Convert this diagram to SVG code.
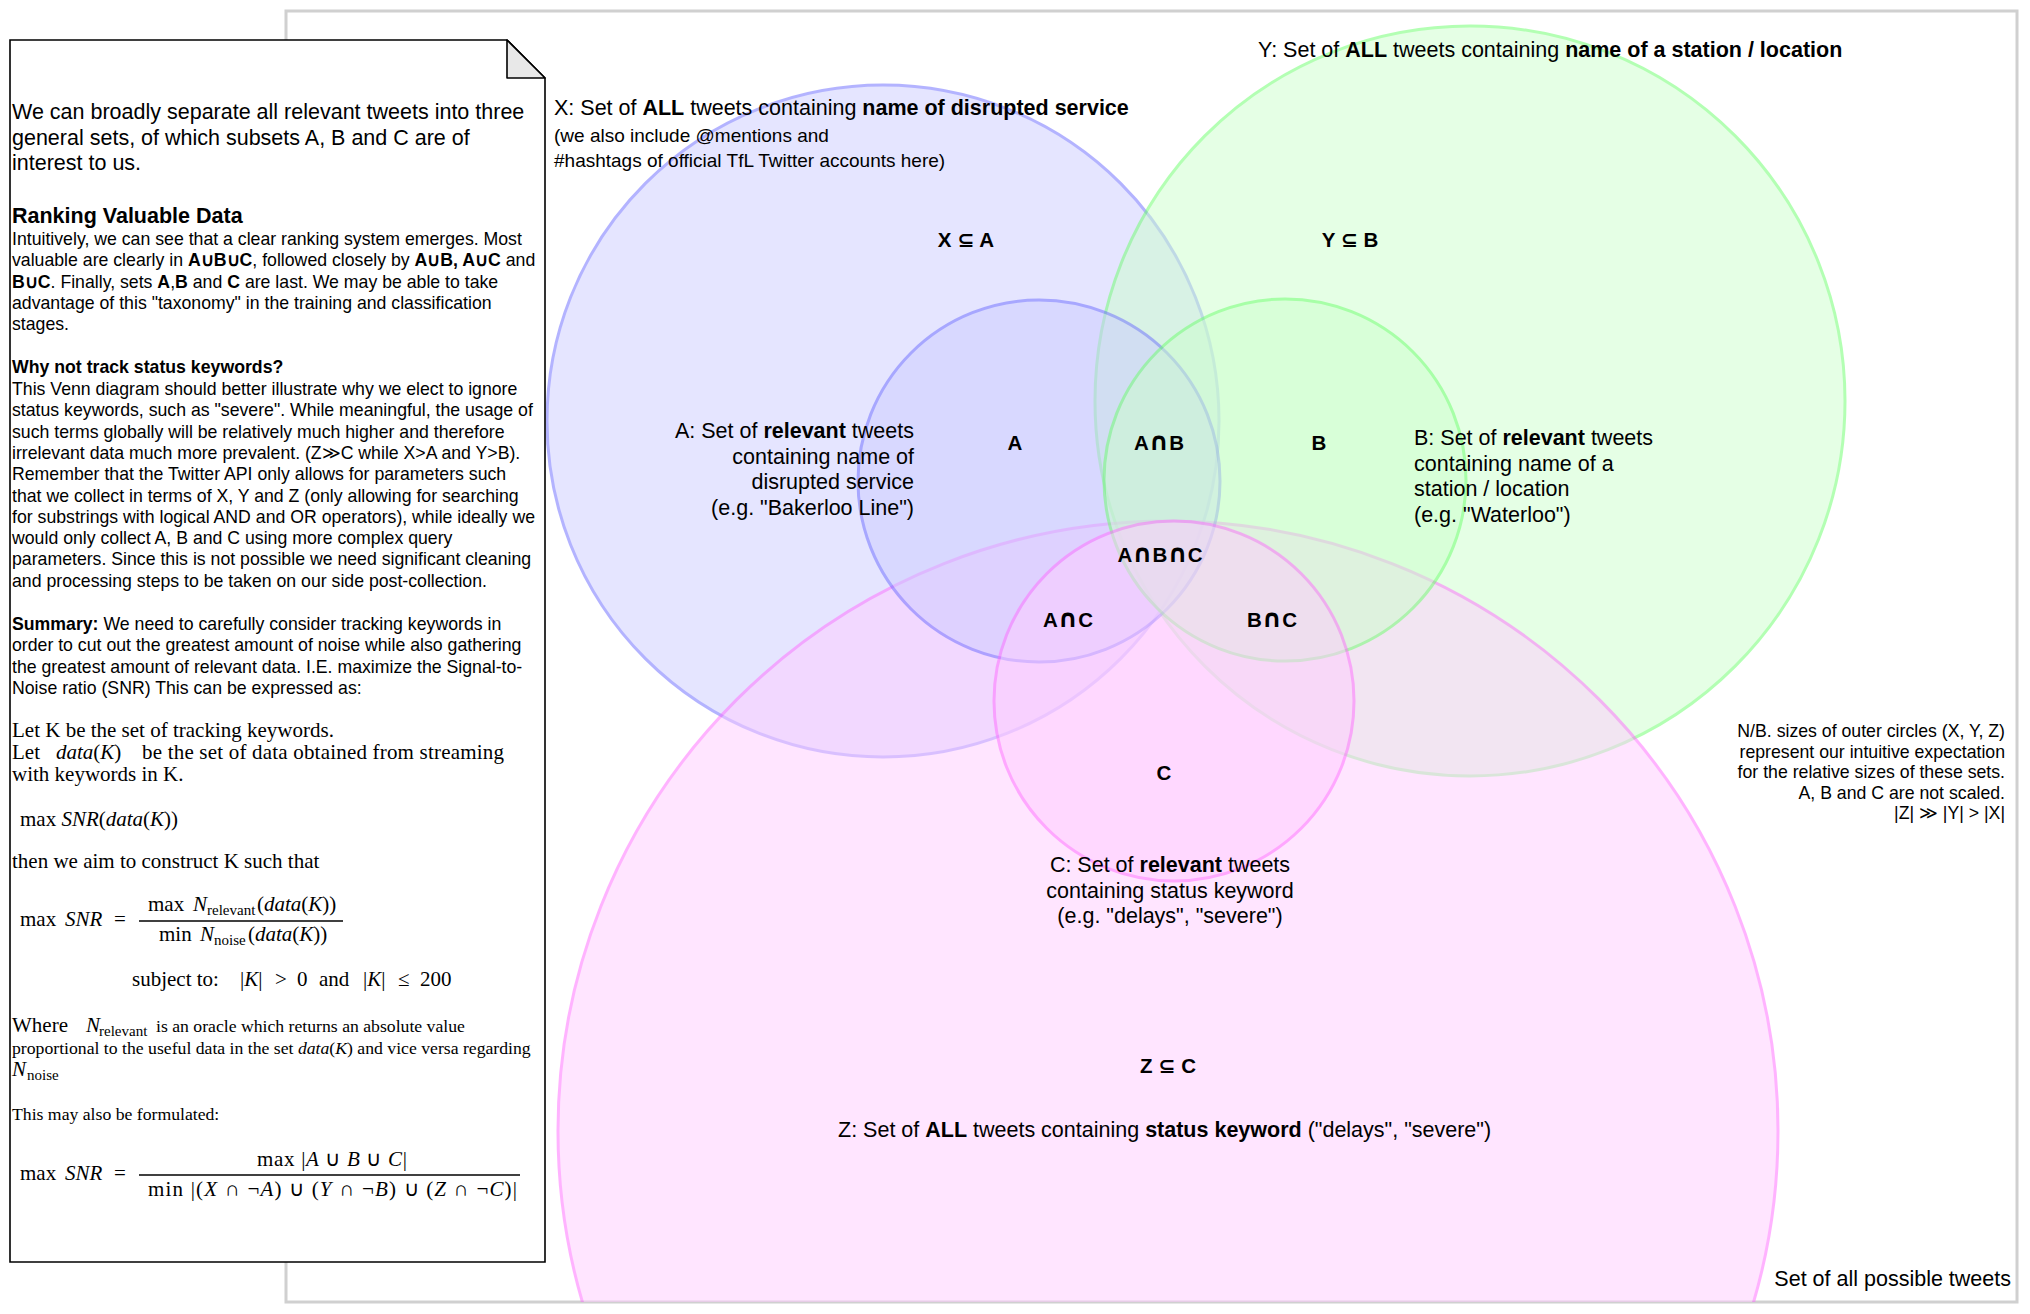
<svg xmlns="http://www.w3.org/2000/svg" width="2030" height="1314" viewBox="0 0 2030 1314">
<defs>
<style>
.sans{font-family:"Liberation Sans",Arial,Helvetica,sans-serif;fill:#000}
.serif{font-family:"Liberation Serif","Times New Roman",serif;fill:#000}
.b{font-weight:bold}
.i{font-style:italic}
.lbl{font-size:21.5px}
.sub{font-size:19px}
.reg{font-family:"Liberation Sans",Arial,sans-serif;font-weight:bold;font-size:20.5px;text-anchor:middle}
.op{font-family:"DejaVu Sans",sans-serif;font-weight:bold}
.cap{font-family:"DejaVu Sans",sans-serif;font-weight:bold;font-size:25px}
.body{font-size:17.7px}
.m{font-size:21px}
.ms{font-size:17.7px}
.tiny{font-size:15px}
.blue{fill:#ccccff;stroke:#6a6aff;stroke-width:3;opacity:0.5}
.green{fill:#ccffcc;stroke:#6aff6a;stroke-width:3;opacity:0.5}
.pink{fill:#ffccff;stroke:#ff6aff;stroke-width:3;opacity:0.5}
</style>
<clipPath id="pageClip"><rect x="286" y="11" width="1731" height="1291"/></clipPath>
</defs>
<rect width="2030" height="1314" fill="#ffffff"/>

<g id="universe">
<rect x="286" y="11" width="1731" height="1291" fill="#ffffff" stroke="#d0d0d0" stroke-width="3"/>
<text class="sans lbl" x="2011" y="1286" text-anchor="end">Set of all possible tweets</text>
</g>

<g id="set-X"><circle class="blue" cx="883" cy="421" r="336"/></g>
<g id="set-Y"><circle class="green" cx="1470" cy="401" r="375"/></g>
<g id="set-Z" clip-path="url(#pageClip)"><circle class="pink" cx="1168" cy="1131" r="610"/></g>
<g id="set-A"><circle class="blue" cx="1039" cy="481" r="181"/></g>
<g id="set-B"><circle class="green" cx="1285" cy="480" r="181"/></g>
<g id="set-C"><circle class="pink" cx="1174" cy="701" r="180"/></g>

<g id="connectors"></g>

<g id="label-X">
<text class="sans lbl" x="554" y="115">X: Set of <tspan class="b">ALL</tspan> tweets containing <tspan class="b">name of disrupted service</tspan></text>
<text class="sans sub" x="554" y="142">(we also include @mentions and</text>
<text class="sans sub" x="554" y="167">#hashtags of official TfL Twitter accounts here)</text>
</g>
<g id="label-Y">
<text class="sans lbl" x="1258" y="57">Y: Set of <tspan class="b">ALL</tspan> tweets containing <tspan class="b">name of a station / location</tspan></text>
</g>
<g id="label-Z">
<text class="sans lbl" x="838" y="1137">Z: Set of <tspan class="b">ALL</tspan> tweets containing <tspan class="b">status keyword</tspan> ("delays", "severe")</text>
</g>
<g id="label-A" class="sans lbl" text-anchor="end">
<text x="914" y="438">A: Set of <tspan class="b">relevant</tspan> tweets</text>
<text x="914" y="463.5">containing name of</text>
<text x="914" y="489">disrupted service</text>
<text x="914" y="514.5">(e.g. "Bakerloo Line")</text>
</g>
<g id="label-B" class="sans lbl">
<text x="1414" y="445">B: Set of <tspan class="b">relevant</tspan> tweets</text>
<text x="1414" y="470.5">containing name of a</text>
<text x="1414" y="496">station / location</text>
<text x="1414" y="521.5">(e.g. "Waterloo")</text>
</g>
<g id="label-C" class="sans lbl" text-anchor="middle">
<text x="1170" y="872">C: Set of <tspan class="b">relevant</tspan> tweets</text>
<text x="1170" y="897.5">containing status keyword</text>
<text x="1170" y="923">(e.g. "delays", "severe")</text>
</g>

<g id="regions">
<text class="reg" x="966" y="247">X <tspan class="op">⊆</tspan> A</text>
<text class="reg" x="1350" y="247">Y <tspan class="op">⊆</tspan> B</text>
<text class="reg" x="1015" y="450">A</text>
<text class="reg" x="1159" y="450">A<tspan class="cap">∩</tspan>B</text>
<text class="reg" x="1319" y="450">B</text>
<text class="reg" x="1160" y="562">A<tspan class="cap">∩</tspan>B<tspan class="cap">∩</tspan>C</text>
<text class="reg" x="1068" y="627">A<tspan class="cap">∩</tspan>C</text>
<text class="reg" x="1272" y="627">B<tspan class="cap">∩</tspan>C</text>
<text class="reg" x="1164" y="780">C</text>
<text class="reg" x="1168" y="1073">Z <tspan class="op">⊆</tspan> C</text>
</g>

<g id="nb-note" class="sans" font-size="17.7px" text-anchor="end">
<text x="2005" y="737">N/B. sizes of outer circles (X, Y, Z)</text>
<text x="2005" y="757.5">represent our intuitive expectation</text>
<text x="2005" y="778">for the relative sizes of these sets.</text>
<text x="2005" y="798.5">A, B and C are not scaled.</text>
<text x="2005" y="819">|Z| ≫ |Y| &gt; |X|</text>
</g>

<g id="note">
<path d="M10 40 H507 L545 78 V1262 H10 Z" fill="#ffffff" stroke="#000000" stroke-width="1.6"/>
<path d="M507 40 V78 H545 Z" fill="#e8e8e8" stroke="#000000" stroke-width="1.6" stroke-linejoin="round"/>
<g class="sans">
<text class="lbl" x="12" y="119.3">We can broadly separate all relevant tweets into three</text>
<text class="lbl" x="12" y="144.8">general sets, of which subsets A, B and C are of</text>
<text class="lbl" x="12" y="170.3">interest to us.</text>
<text class="lbl b" x="12" y="222.7">Ranking Valuable Data</text>
<text class="body" x="12" y="245">Intuitively, we can see that a clear ranking system emerges. Most</text>
<text class="body" x="12" y="266.3">valuable are clearly in <tspan class="b">A∪B∪C</tspan>, followed closely by <tspan class="b">A∪B, A∪C</tspan> and</text>
<text class="body" x="12" y="287.6"><tspan class="b">B∪C</tspan>. Finally, sets <tspan class="b">A</tspan>,<tspan class="b">B</tspan> and <tspan class="b">C</tspan> are last. We may be able to take</text>
<text class="body" x="12" y="308.9">advantage of this "taxonomy" in the training and classification</text>
<text class="body" x="12" y="330.2">stages.</text>
<text class="body b" x="12" y="373">Why not track status keywords?</text>
<text class="body" x="12" y="395">This Venn diagram should better illustrate why we elect to ignore</text>
<text class="body" x="12" y="416.3">status keywords, such as "severe". While meaningful, the usage of</text>
<text class="body" x="12" y="437.6">such terms globally will be relatively much higher and therefore</text>
<text class="body" x="12" y="458.9">irrelevant data much more prevalent. (Z≫C while X&gt;A and Y&gt;B).</text>
<text class="body" x="12" y="480.2">Remember that the Twitter API only allows for parameters such</text>
<text class="body" x="12" y="501.5">that we collect in terms of X, Y and Z (only allowing for searching</text>
<text class="body" x="12" y="522.8">for substrings with logical AND and OR operators), while ideally we</text>
<text class="body" x="12" y="544.1">would only collect A, B and C using more complex query</text>
<text class="body" x="12" y="565.4">parameters. Since this is not possible we need significant cleaning</text>
<text class="body" x="12" y="586.7">and processing steps to be taken on our side post-collection.</text>
<text class="body" x="12" y="630"><tspan class="b">Summary:</tspan> We need to carefully consider tracking keywords in</text>
<text class="body" x="12" y="651.3">order to cut out the greatest amount of noise while also gathering</text>
<text class="body" x="12" y="672.6">the greatest amount of relevant data. I.E. maximize the Signal-to-</text>
<text class="body" x="12" y="693.9">Noise ratio (SNR) This can be expressed as:</text>
</g>
<g class="serif">
<text class="m" x="12" y="737">Let K be the set of tracking keywords.</text>
<text class="m" x="12" y="759">Let</text>
<text class="m" x="56" y="759"><tspan class="i">data</tspan>(<tspan class="i">K</tspan>)</text>
<text class="m" x="142" y="759" textLength="362" lengthAdjust="spacing">be the set of data obtained from streaming</text>
<text class="m" x="12" y="781">with keywords in K.</text>
<text class="m" x="20" y="826">max <tspan class="i">SNR</tspan>(<tspan class="i">data</tspan>(<tspan class="i">K</tspan>))</text>
<text class="m" x="12" y="868">then we aim to construct K such that</text>

<text class="m" x="20" y="926">max</text>
<text class="m i" x="65" y="926">SNR</text>
<text class="m" x="114" y="926">=</text>
<text class="m" x="148" y="911">max</text>
<text class="m i" x="193" y="911">N</text>
<text class="tiny" x="207" y="915">relevant</text>
<text class="m" x="257" y="911">(<tspan class="i">data</tspan>(<tspan class="i">K</tspan>))</text>
<line x1="139" y1="921" x2="343" y2="921" stroke="#000" stroke-width="1.4"/>
<text class="m" x="159" y="941">min</text>
<text class="m i" x="200" y="941">N</text>
<text class="tiny" x="214" y="945">noise</text>
<text class="m" x="248" y="941">(<tspan class="i">data</tspan>(<tspan class="i">K</tspan>))</text>

<text class="m" x="132" y="986">subject to:</text>
<text class="m" x="240" y="986">|<tspan class="i">K</tspan>|</text>
<text class="m" x="275" y="986">&gt;</text>
<text class="m" x="297" y="986">0</text>
<text class="m" x="319" y="986">and</text>
<text class="m" x="363" y="986">|<tspan class="i">K</tspan>|</text>
<text class="m" x="398" y="986">≤</text>
<text class="m" x="420" y="986">200</text>

<text class="m" x="12" y="1032">Where</text>
<text class="m i" x="86" y="1032">N</text>
<text class="tiny" x="99" y="1036">relevant</text>
<text class="ms" x="156" y="1032">is an oracle which returns an absolute value</text>
<text class="ms" x="12" y="1054">proportional to the useful data in the set <tspan class="i">data</tspan>(<tspan class="i">K</tspan>) and vice versa regarding</text>
<text class="m i" x="12" y="1076">N</text>
<text class="tiny" x="27" y="1080">noise</text>
<text class="ms" x="12" y="1120">This may also be formulated:</text>

<text class="m" x="20" y="1180">max</text>
<text class="m i" x="65" y="1180">SNR</text>
<text class="m" x="114" y="1180">=</text>
<text class="m" x="257" y="1166" textLength="150" lengthAdjust="spacing">max |<tspan class="i">A</tspan> ∪ <tspan class="i">B</tspan> ∪ <tspan class="i">C</tspan>|</text>
<line x1="139" y1="1175" x2="520" y2="1175" stroke="#000" stroke-width="1.4"/>
<text class="m" x="148" y="1196" textLength="369" lengthAdjust="spacing">min |(<tspan class="i">X</tspan> ∩ ¬<tspan class="i">A</tspan>) ∪ (<tspan class="i">Y</tspan> ∩ ¬<tspan class="i">B</tspan>) ∪ (<tspan class="i">Z</tspan> ∩ ¬<tspan class="i">C</tspan>)|</text>
</g>
</g>
</svg>
